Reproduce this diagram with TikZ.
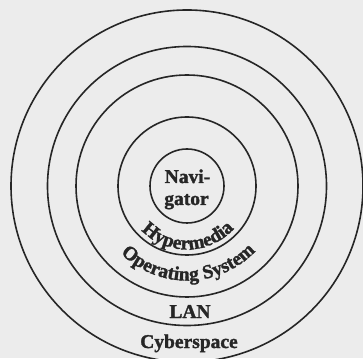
\documentclass[tikz,border=0pt]{standalone}
\usepackage{fontspec}
\setmainfont{Liberation Serif}[BoldFeatures={FakeBold=1.6}]
\usetikzlibrary{decorations.text,calc}
\definecolor{paper}{RGB}{236,236,236}
\definecolor{ink}{RGB}{38,38,38}
\newcommand{\layerfont}{\bfseries\fontsize{19.5}{22}\selectfont}
\begin{document}
\begin{tikzpicture}[x=1pt,y=1pt,
  ring/.style={draw=ink, line width=1.6pt, circle, inner sep=0pt, outer sep=0pt},
  layer/.style={text=ink, font=\layerfont, inner sep=0pt, anchor=base},
  bent/.style={decorate, decoration={text along path, text align=center,
    text color=ink, text={|\layerfont|#1}}}
  ]
% paper and frame
\fill[paper] (0,0) rectangle (363,358);
\useasboundingbox (0,0) rectangle (363,358);
\coordinate (c) at (187,172);

% concentric layers, outermost first
\node[ring, minimum size=352pt] (cyberspace) at (c) {};
\node[ring, minimum size=279pt] (lan) at (c) {};
\node[ring, minimum size=222pt] (os) at (c) {};
\node[ring, minimum size=138pt] (hypermedia) at (c) {};
\node[ring, minimum size=74pt] (navigator) at (c) {};

% straight labels
\node[layer] (navi) at (187.5,175) {Navi-};
\node[layer] (gator) at (186.5,153) {gator};
\node[layer] (lanlabel) at (190,40) {LAN};
\node[layer] (cyberlabel) at (189,10) {Cyberspace};

% labels bent along the lower half of their rings
\path[bent=Hypermedia] ($(c)+(195:63.5)$) arc[start angle=195, end angle=347, radius=63.5];
\path[bent=Operating System] ($(c)+(200:94.5)$) arc[start angle=200, end angle=342, radius=94.5];
\end{tikzpicture}
\end{document}
